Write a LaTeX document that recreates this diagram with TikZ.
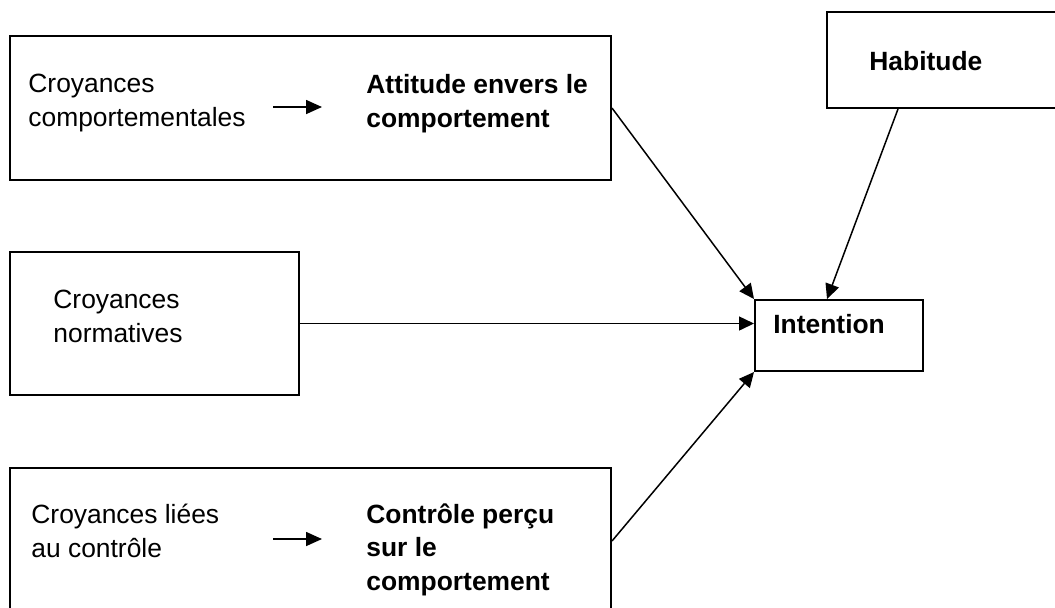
\documentclass[tikz,border=0pt]{standalone}
\usepackage{fontspec}
\setmainfont{Liberation Sans}
\usepackage{tikz}
\usetikzlibrary{arrows.meta}

\begin{document}
\begin{tikzpicture}[x=0.5pt,y=-0.5pt,
  box/.style={draw,line width=1pt,anchor=north west,inner sep=0pt},
  txt/.style={anchor=base west,inner sep=0pt,align=left,font=\fontsize{13.2}{16.6}\selectfont},
  btxt/.style={txt,font=\fontsize{13.2}{16.6}\selectfont\bfseries},
  link/.style={line width=0.75pt,-{Triangle[length=7.5pt,width=7pt]}},
  small/.style={line width=0.8pt,-{Triangle[length=8pt,width=7pt]}}]
\useasboundingbox (0,0) rectangle (1055,607);
\clip (0,0) rectangle (1055,607);
\node[box,minimum width=300.5pt,minimum height=72pt] (attbox) at (9,35) {};
\node[box,minimum width=122pt,minimum height=48pt] (habbox) at (826,11) {};
\node[box,minimum width=144.5pt,minimum height=71.5pt] (normbox) at (9,251) {};
\node[box,minimum width=84pt,minimum height=35.5pt] (intbox) at (754,299) {};
\node[box,minimum width=300.5pt,minimum height=73pt] (ctrlbox) at (9,467) {};

\node[txt] (croycomp) at (28,126) {Croyances\\comportementales};
\node[btxt] (attitude) at (366,127) {Attitude envers le\\comportement};
\node[btxt] (habitude) at (869,70) {Habitude};
\node[txt] (croynorm) at (53,342) {Croyances\\normatives};
\node[btxt] (intention) at (773,333) {Intention};
\node[txt] (croyctrl) at (31,557) {Croyances liées\\au contrôle};
\node[btxt] (controle) at (366,590) {Contrôle perçu\\sur le\\comportement};

\coordinate (c1a) at (273,107);
\coordinate (c1b) at (322,107);
\coordinate (c2a) at (273,539);
\coordinate (c2b) at (322,539);
\draw[small] (c1a) -- (c1b);
\draw[small] (c2a) -- (c2b);

\draw[link] (attbox.east) -- (intbox.north west);
\draw[link] ([xshift=36pt]habbox.south west) -- ([xshift=36.5pt]intbox.north west);
\draw[link] (normbox.east) -- (normbox.east -| intbox.west);
\draw[link] (ctrlbox.east) -- (intbox.south west);
\end{tikzpicture}
\end{document}
